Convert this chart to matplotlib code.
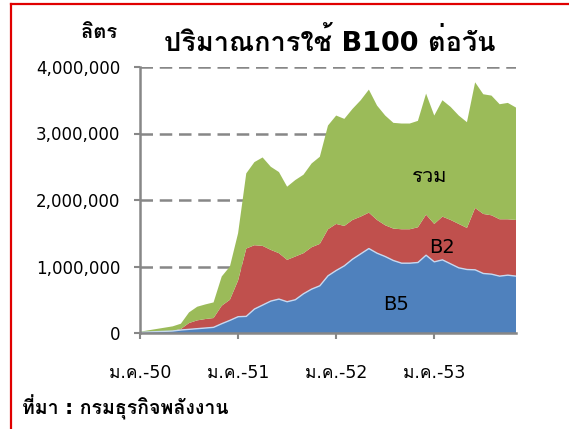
import matplotlib
matplotlib.use("Agg")
import matplotlib.pyplot as plt
import numpy as np
from matplotlib import font_manager
from matplotlib.ft2font import FT2Font
from matplotlib.ticker import FuncFormatter

# monthly B100 use per day, litres (read in thousands), Jan-50 .. Nov-53
b5_k = [10, 15, 20, 25, 30, 45, 55, 65, 75, 85, 140, 190, 245, 250, 360, 420, 480, 510, 470, 500,
        590, 660, 710, 860, 940, 1010, 1110, 1190, 1270, 1200, 1150, 1090, 1050, 1050, 1060, 1170,
        1070, 1100, 1040, 980, 955, 950, 895, 885, 855, 870, 855]
b2_k = [0, 0, 0, 0, 0, 15, 95, 125, 135, 140, 270, 310, 545, 1020, 960, 890, 770, 690, 630, 650,
        610, 630, 630, 700, 700, 600, 590, 560, 540, 500, 470, 480, 510, 510, 530, 610, 570, 650,
        660, 660, 625, 930, 895, 885, 855, 840, 845]
total_k = [10, 25, 40, 55, 70, 80, 160, 205, 220, 235, 440, 500, 710, 1130, 1250, 1330, 1250, 1220,
           1100, 1150, 1180, 1260, 1310, 1560, 1630, 1610, 1670, 1750, 1850, 1720, 1650, 1590, 1590,
           1590, 1600, 1820, 1630, 1750, 1700, 1630, 1590, 1890, 1800, 1800, 1730, 1750, 1690]
tick_pos = [0, 12, 24, 36]
tick_labels = ["ม.ค.-50", "ม.ค.-51", "ม.ค.-52", "ม.ค.-53"]
yticks = [0, 1000000, 2000000, 3000000, 4000000]


def find_thai_font():
    # first installed family that has Thai glyphs
    for f in font_manager.fontManager.ttflist:
        try:
            cmap = FT2Font(f.fname).get_charmap()
        except Exception:
            continue
        if 0x0E01 in cmap and 0x0E21 in cmap:
            return f.name
    return "DejaVu Sans"


thai = find_thai_font()
plt.rcParams['font.family'] = ["DejaVu Sans", thai]

b5 = np.array(b5_k) * 1000
b2 = np.array(b2_k) * 1000
total = np.array(total_k) * 1000
x = np.arange(len(b5))

fig = plt.figure(figsize=(5.69, 4.29), dpi=100)
ax = fig.add_axes([140 / 569, 1 - 333 / 429, 376 / 569, 266 / 429])

ax.stackplot(x, b5, b2, total, colors=["#4f81bd", "#c0504d", "#9bbb59"], linewidth=0)
ax.plot(x, b5, color="#c6d9f1", lw=1.0)

ax.set_xlim(0, len(b5) - 1)
ax.set_ylim(0, 4000000)
ax.set_yticks(yticks)
ax.yaxis.set_major_formatter(FuncFormatter(lambda v, p: f"{int(v):,}"))
ax.set_xticks(tick_pos)
ax.set_xticklabels(tick_labels)

gray = "#878787"
for v in yticks[1:]:
    ax.axhline(v, color=gray, lw=1.8, linestyle=(0, (5, 2.7)), zorder=0.5)
for s in ["top", "right"]:
    ax.spines[s].set_visible(False)
for s in ["left", "bottom"]:
    ax.spines[s].set_color(gray)
    ax.spines[s].set_linewidth(1.8)
    ax.spines[s].set_zorder(3)
ax.tick_params(axis="y", direction="out", length=4, width=1.5, color=gray, labelsize=12, pad=10)
ax.tick_params(axis="x", direction="out", length=4, width=1.5, color=gray, labelsize=12.5, pad=18)

fig.text(430 / 569, 1 - 176 / 429, "รวม", fontsize=14.5, ha="center", va="center")
fig.text(442 / 569, 1 - 248 / 429, "B2", fontsize=14, ha="center", va="center")
fig.text(396 / 569, 1 - 305 / 429, "B5", fontsize=14, ha="center", va="center")

fig.text(330 / 569, 1 - 51 / 429, "ปริมาณการใช้ B100 ต่อวัน", fontsize=19.5, fontweight="bold",
         ha="center", va="baseline")
fig.text(99 / 569, 1 - 38 / 429, "ลิตร", fontsize=14.5, fontweight="bold", ha="center", va="baseline")
fig.text(22 / 569, 1 - 415 / 429, "ที่มา : กรมธุรกิจพลังงาน", fontsize=14, fontweight="bold",
         ha="left", va="baseline")

# red frame, only top and left edges are inside the picture
fig.add_artist(plt.Line2D([11 / 569, 11 / 569], [0, 1 - 4 / 429], color="#e00000", lw=1.6))
fig.add_artist(plt.Line2D([11 / 569, 1], [1 - 4 / 429, 1 - 4 / 429], color="#e00000", lw=1.6))

fig.savefig("out.png", dpi=100)
